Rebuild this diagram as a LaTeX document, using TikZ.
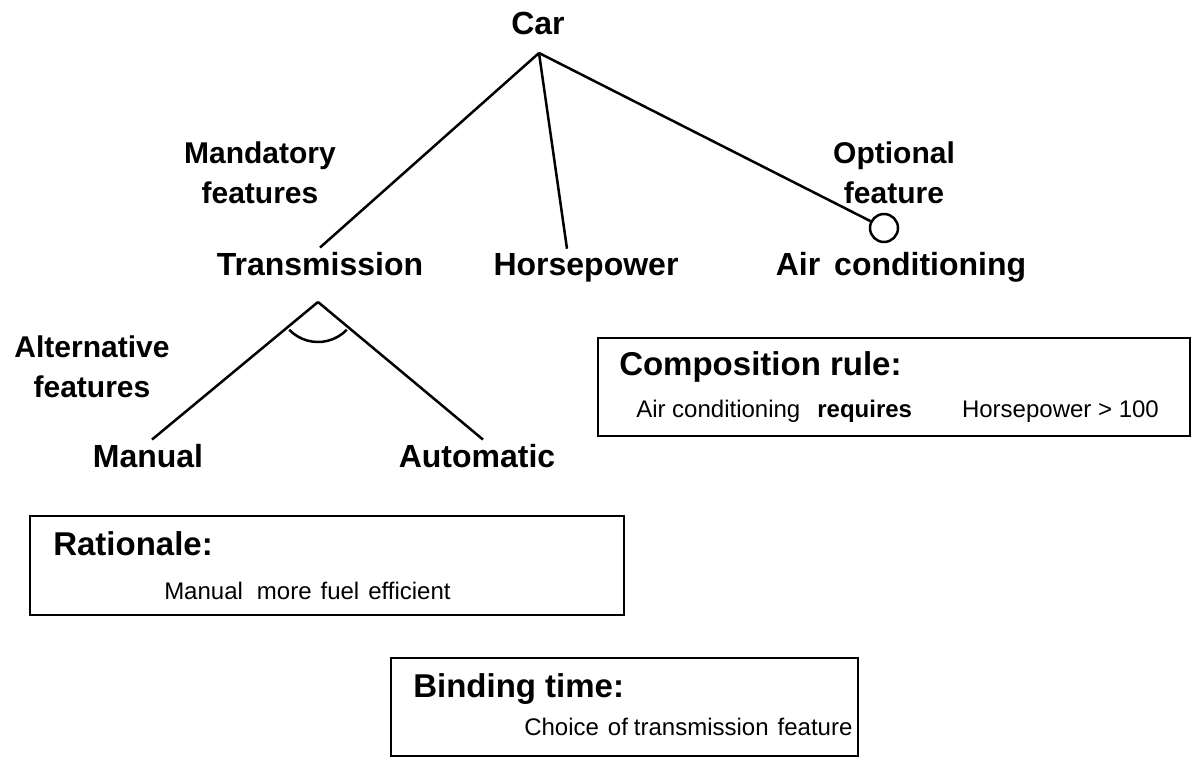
\documentclass[tikz,border=0pt]{standalone}
\usepackage{fontspec}
\setmainfont{Liberation Sans}
\begin{document}
\begin{tikzpicture}[x=1pt, y=1pt, line width=2.5pt,
  feat/.style = {font=\bfseries\fontsize{32}{38}\selectfont, inner xsep=0pt, inner ysep=3pt, anchor=base},
  note/.style = {font=\bfseries\fontsize{30}{40}\selectfont, align=center, inner sep=0pt, anchor=base},
  optmark/.style = {draw, circle, minimum size=28pt, inner sep=0pt},
  infobox/.style = {draw, line width=2pt, inner sep=0pt, outer sep=0pt},
  head/.style = {font=\bfseries\fontsize{33}{40}\selectfont, inner sep=0pt, anchor=base west},
  body/.style = {font=\fontsize{24}{29}\selectfont, inner sep=0pt, anchor=base west}]
\useasboundingbox (0,0) rectangle (1191,-757);
% feature tree
\node[feat] (car) at (538,-35) {Car};
\coordinate (carpt) at (539,-53);
\node[feat] (trans) at (320,-275) {Transmission};
\node[feat] (hp) at (586,-275) {Horsepower};
\node[feat] (ac) at (901,-275) {Air\hspace{14pt}conditioning};
\node[optmark] (acopt) at (884,-228) {};
\node[note] (mand) at (260,-203) {Mandatory\\features};
\node[note] (optl) at (894,-203) {Optional\\feature};
\draw (carpt) -- (trans.north);
\draw (carpt) -- ([xshift=-19pt]hp.north);
\draw (carpt) -- (acopt);
% alternatives
\coordinate (transpt) at (318,-302);
\node[feat] (man) at (148,-467) {Manual};
\node[feat] (auto) at (477,-467) {Automatic};
\node[note] (alt) at (92,-397) {Alternative\\features};
\draw (transpt) -- ([xshift=4pt]man.north);
\draw (transpt) -- ([xshift=6pt]auto.north);
\draw ([shift={(224:40pt)}]transpt) arc[start angle=224, end angle=316, radius=40pt];
% boxes
\node[infobox, minimum width=594pt, minimum height=99pt] (ratbox) at (327,-565.5) {};
\node[head] (rathead) at ([xshift=22pt, yshift=-39pt]ratbox.north west) {Rationale:};
\node[body] (ratbody) at ([xshift=133pt, yshift=-83pt]ratbox.north west) {Manual\hspace{14pt}more\hspace{9pt}fuel\hspace{9pt}efficient};
\node[infobox, minimum width=592pt, minimum height=98pt] (compbox) at (894,-387) {};
\node[head] (comphead) at ([xshift=20pt, yshift=-37pt]compbox.north west) {Composition rule:};
\node[body] (compbody) at ([xshift=37pt, yshift=-79pt]compbox.north west) {Air conditioning\hspace{17pt}\textbf{requires}\hspace{50pt}Horsepower > 100};
\node[infobox, minimum width=467pt, minimum height=98pt] (bindbox) at (624.5,-707) {};
\node[head] (bindhead) at ([xshift=21pt, yshift=-39pt]bindbox.north west) {Binding time:};
\node[body] (bindbody) at ([xshift=132pt, yshift=-77pt]bindbox.north west) {Choice\hspace{9pt}of\hspace{6pt}transmission\hspace{9pt}feature};
\end{tikzpicture}
\end{document}
